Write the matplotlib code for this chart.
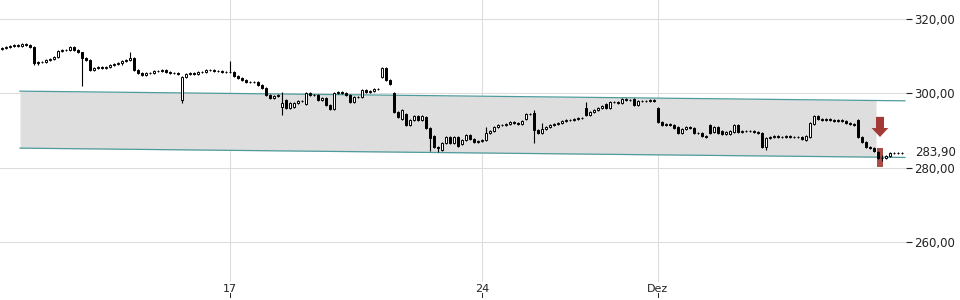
import numpy as np
import matplotlib
matplotlib.use("Agg")
import matplotlib.pyplot as plt
import matplotlib.transforms as mtransforms

_GRID = "#dddddd"
_TEXT = "#222222"
_CHANNEL = "#4f9b9c"
_FILL = "#dedede"
_SIGNAL = "#a23b36"

# closing prices, one candle per slot (left to right)
closes = [
    312.1, 312.4, 312.6, 312.9, 312.6, 313.2, 312.9, 312.4, 308.0, 308.3,
    308.3, 308.9, 309.1, 309.7, 311.3, 311.5, 311.5, 312.4, 311.5, 311.0,
    309.4, 308.9, 306.2, 306.7, 307.0, 306.7, 307.0, 307.5, 307.8, 308.0,
    308.6, 308.9, 309.4, 306.2, 305.4, 304.8, 305.4, 305.4, 305.9, 305.9,
    306.2, 305.6, 305.4, 305.4, 305.1, 304.3, 305.1, 305.4, 305.1, 305.6,
    305.6, 306.2, 306.2, 305.9, 305.9, 305.6, 305.6, 305.6, 304.6, 304.0,
    303.5, 303.0, 303.0, 303.0, 302.2, 301.3, 299.5, 298.7, 299.2, 299.5,
    297.3, 296.0, 297.3, 297.3, 297.9, 297.9, 300.0, 299.5, 299.5, 298.1,
    298.7, 296.8, 295.7, 300.0, 300.3, 300.0, 299.5, 297.6, 298.9, 298.9,
    300.8, 300.3, 300.5, 301.1, 301.1, 306.7, 303.5, 302.4, 294.9, 293.6,
    295.4, 291.4, 292.8, 293.8, 292.8, 293.8, 290.6, 287.9, 285.5, 285.2,
    286.6, 288.2, 286.6, 288.2, 285.8, 287.4, 288.7, 287.7, 286.8, 287.1,
    287.4, 289.3, 289.8, 290.9, 291.4, 291.4, 291.7, 292.2, 291.9, 291.7,
    292.5, 294.4, 294.4, 290.1, 289.3, 290.3, 290.9, 291.4, 291.7, 291.9,
    292.5, 292.8, 292.8, 293.0, 293.3, 293.3, 294.1, 294.9, 295.4, 296.0,
    296.5, 296.0, 297.6, 297.6, 297.3, 298.4, 298.1, 298.1, 296.8, 297.9,
    297.9, 297.9, 298.1, 297.9, 292.2, 291.4, 291.7, 291.4, 290.6, 289.3,
    290.3, 290.9, 290.6, 289.3, 289.3, 288.5, 288.2, 289.3, 290.9, 289.3,
    289.0, 289.5, 289.8, 291.4, 289.5, 289.8, 289.8, 289.8, 289.5, 289.3,
    285.5, 287.9, 288.2, 288.5, 288.2, 288.2, 288.5, 288.2, 288.2, 288.2,
    287.7, 288.5, 291.9, 293.8, 293.0, 292.8, 293.0, 292.8, 292.5, 292.8,
    292.5, 291.9, 291.7, 291.4, 288.2, 286.8, 285.5, 285.2, 284.4, 282.6,
    282.6, 283.1, 283.9, 283.9, 283.9, 283.9,
]
first_open = 311.8

# candles whose open differs from the previous close
open_gaps = {
    45: 298.1, 70: 296.2, 71: 298.1, 73: 296.2, 76: 297.0, 95: 304.3,
    98: 300.0, 100: 293.0, 101: 294.4, 106: 293.6, 108: 288.5, 110: 284.7,
    115: 286.3, 131: 293.0, 133: 294.6, 146: 296.0, 151: 297.0, 158: 298.4,
    164: 296.0, 169: 290.9, 177: 291.4, 178: 289.5, 180: 289.8, 182: 289.0,
    183: 289.5, 184: 291.4, 201: 287.4, 202: 288.2, 203: 291.7, 214: 292.8,
    219: 284.2, 222: 283.1,
}
# notable wicks: index -> (high, low)
wicks = {
    20: (310.5, 301.9), 32: (311.0, None), 45: (None, 297.3), 57: (308.6, None),
    70: (300.3, 294.1), 107: (None, 284.4), 109: (None, 284.2),
    121: (290.9, None), 133: (295.4, 286.6), 135: (291.9, None),
    146: (297.6, None), 177: (291.7, None), 191: (None, 284.7),
    220: (283.4, 281.8),
}

tick_pos = [57, 120, 164]
tick_labels = ["17", "24", "Dez"]
y_ticks = [260, 280, 300, 320]

channel_x = [4.5, 225.75]
channel_upper = [300.5, 297.9]
channel_lower = [285.2, 282.7]
fill_end = 218.5

signal_idx = 219.5
signal_arrow = (293.6, 288.2)
signal_bar = (285.2, 280.1)

last_price = closes[-1]

n = len(closes)
idx = np.arange(n)
c = np.array(closes)
o = np.array([first_open] + closes[:-1])
for k, v in open_gaps.items():
    o[k] = v
hi = np.maximum(o, c) + 0.35
lo = np.minimum(o, c) - 0.35
for k, (h, l) in wicks.items():
    if h is not None:
        hi[k] = h
    if l is not None:
        lo[k] = l

fig = plt.figure(figsize=(9.6, 3.0), dpi=100)
ax = fig.add_axes([0.0, 0.06, 906 / 960, 0.94])
ax.set_xlim(-0.5, 226.0)
ax.set_ylim(249.26, 324.97)

for s in ax.spines.values():
    s.set_visible(False)

ax.set_yticks(y_ticks)
ax.set_yticklabels([f"{v:.2f}".replace(".", ",") for v in y_ticks])
ax.yaxis.tick_right()
ax.tick_params(axis="y", length=4, width=0.8, color=_TEXT, pad=2,
               labelsize=8.5, labelcolor=_TEXT)
ax.set_xticks(tick_pos)
ax.set_xticklabels(tick_labels)
ax.tick_params(axis="x", length=0, pad=1.5, labelsize=8, labelcolor=_TEXT)
ax.grid(True, color=_GRID, linewidth=0.8)
ax.set_axisbelow(True)

# small tick marks under the date labels
trans_x = mtransforms.blended_transform_factory(ax.transData, ax.transAxes)
for t in tick_pos:
    ax.plot([t, t], [-0.04, -0.054], color=_TEXT, lw=0.7, transform=trans_x, clip_on=False)

# trend channel
xs_fill = np.linspace(channel_x[0], fill_end, 50)
up_fill = np.interp(xs_fill, channel_x, channel_upper)
lo_fill = np.interp(xs_fill, channel_x, channel_lower)
ax.fill_between(xs_fill, lo_fill, up_fill, color=_FILL, lw=0, zorder=1)
ax.plot(channel_x, channel_upper, color=_CHANNEL, lw=0.9, zorder=2)
ax.plot(channel_x, channel_lower, color=_CHANNEL, lw=0.9, zorder=2)

# sell signal
ax.arrow(signal_idx, signal_arrow[0], 0, signal_arrow[1] - signal_arrow[0],
         width=2.0, head_width=4.2, head_length=2.4, length_includes_head=True,
         color=_SIGNAL, lw=0, zorder=3)
ax.bar([signal_idx], [signal_bar[0] - signal_bar[1]], bottom=[signal_bar[1]],
       width=1.3, color=_SIGNAL, alpha=0.9, lw=0, zorder=3)

# candles
up = c >= o
ax.vlines(idx, lo, hi, color="black", lw=0.8, zorder=4)
ax.bar(idx, c - o, bottom=o, width=0.62,
       color=np.where(up, "white", "black"), edgecolor="black", linewidth=0.7, zorder=5)

trans_y = mtransforms.blended_transform_factory(ax.transAxes, ax.transData)
ax.annotate(f"{last_price:.2f}".replace(".", ","), xy=(1.0, last_price), xycoords=trans_y,
            xytext=(6.6, 0), textcoords="offset points", va="center", ha="left",
            fontsize=8.5, color=_TEXT, annotation_clip=False)

fig.savefig("out.png", dpi=100)
